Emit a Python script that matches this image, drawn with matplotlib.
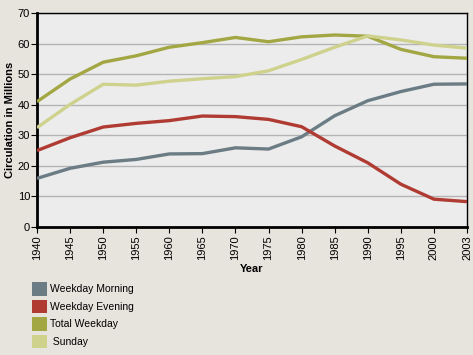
import numpy as np
import matplotlib
matplotlib.use("Agg")
import matplotlib.pyplot as plt
from matplotlib.patches import Patch

years = ["1940", "1945", "1950", "1955", "1960", "1965", "1970",
         "1975", "1980", "1985", "1990", "1995", "2000", "2003"]
weekday_morning = [15.9, 19.2, 21.2, 22.1, 23.9, 24.0, 25.9, 25.5, 29.5, 36.4, 41.3, 44.3, 46.7, 46.8]
weekday_evening = [25.0, 29.2, 32.7, 33.9, 34.8, 36.3, 36.1, 35.2, 32.8, 26.5, 21.0, 14.0, 9.1, 8.3]
total_weekday = [41.0, 48.4, 53.9, 56.0, 58.8, 60.3, 62.0, 60.6, 62.2, 62.8, 62.4, 58.1, 55.7, 55.2]
sunday = [32.5, 40.1, 46.7, 46.4, 47.7, 48.5, 49.2, 51.1, 54.8, 58.8, 62.5, 61.2, 59.5, 58.5]

series = [
    ("Weekday Morning", weekday_morning, "#6b7c85"),
    ("Weekday Evening", weekday_evening, "#b03b33"),
    ("Total Weekday", total_weekday, "#a3a743"),
    (" Sunday", sunday, "#cfd28c"),
]

plt.rcParams['font.family'] = ['Liberation Sans', 'DejaVu Sans']

fig = plt.figure(figsize=(4.73, 3.55), dpi=100, facecolor="#e7e3dd")
ax = fig.add_axes([37/473, 1 - 227/355, 430/473, 214/355])
ax.set_facecolor("#ececec")

x = np.arange(len(years))
for name, vals, col in series:
    ax.plot(x, vals, color=col, lw=2.4, solid_capstyle="butt", zorder=3)

ax.set_xlim(0, len(years) - 1)
ax.set_ylim(0, 70)
ax.set_yticks(range(0, 71, 10))
ax.set_xticks(x)
ax.set_xticklabels(years, rotation=90, fontsize=8)
ax.tick_params(axis="y", labelsize=8, length=4, pad=1)
ax.tick_params(axis="x", length=4, pad=2)
ax.yaxis.grid(True, color="#b4b4b4", lw=1)
ax.set_axisbelow(True)

for s in ["left", "bottom"]:
    ax.spines[s].set_linewidth(2)
for s in ["top", "right"]:
    ax.spines[s].set_linewidth(1)

ax.set_ylabel("Circulation in Millions", fontsize=8, fontweight="bold", labelpad=2)
ax.set_xlabel("Year", fontsize=8, fontweight="bold", labelpad=3)

handles = [Patch(facecolor=col, edgecolor="none") for _, _, col in series]
fig.legend(handles, [s[0] for s in series], loc="upper left",
           bbox_to_anchor=(28/473, 1 - 278/355), frameon=False, fontsize=7.5,
           handlelength=1.4, handleheight=1.6, handletextpad=0.3, labelspacing=0.4,
           borderaxespad=0)

fig.savefig("out.png", dpi=100, facecolor=fig.get_facecolor())
